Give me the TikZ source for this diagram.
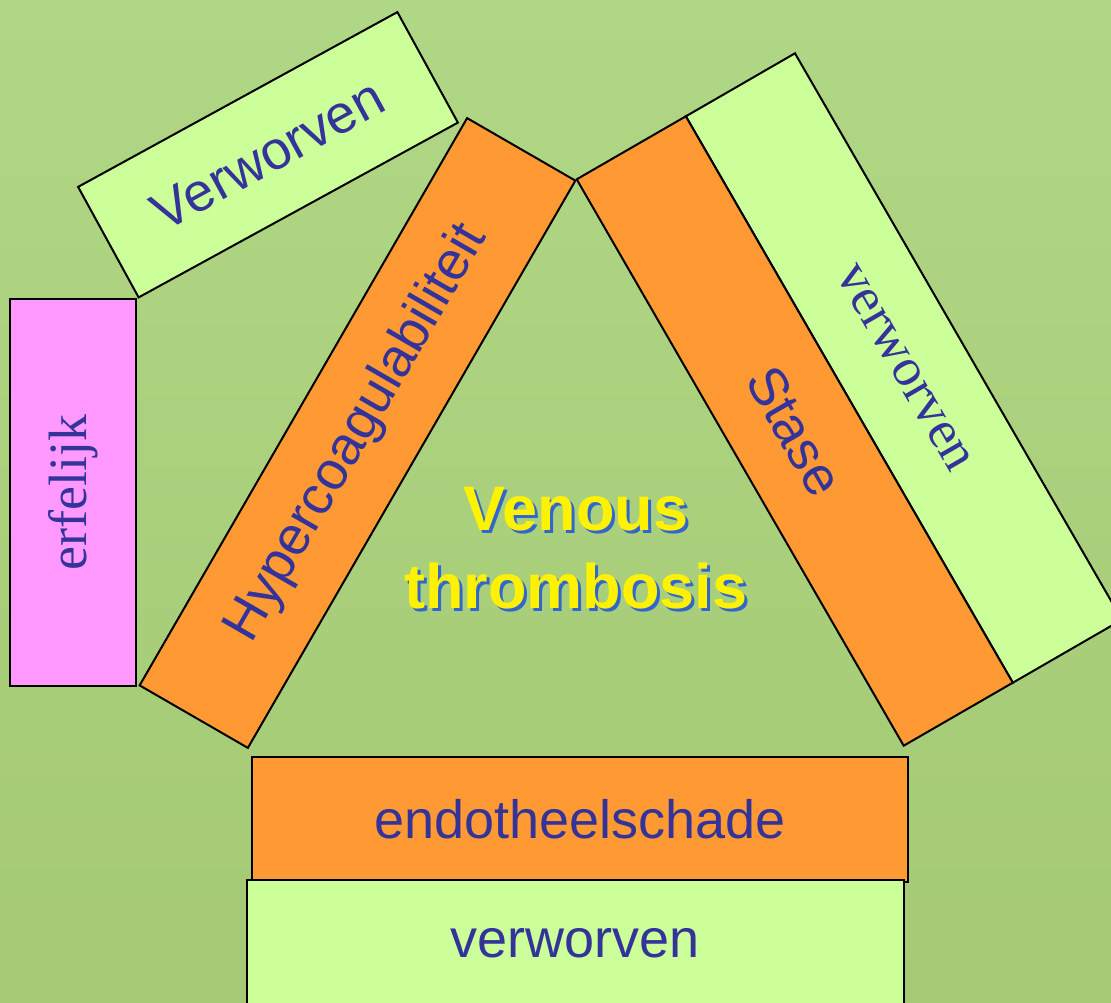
\documentclass[tikz,border=0pt]{standalone}
\usepackage{fontspec}
\setmainfont{Liberation Sans}
\newfontfamily\timesfont{Liberation Serif}
\usepackage{xcolor}
\usepackage{tikz}
\usetikzlibrary{positioning}

\definecolor{bggreen}{HTML}{A5C974}
\definecolor{bglight}{HTML}{B0D785}
\definecolor{boxorange}{HTML}{FF9933}
\definecolor{boxgreen}{HTML}{CCFF99}
\definecolor{boxpink}{HTML}{FF99FF}
\definecolor{txtblue}{HTML}{333399}
\definecolor{shadowblue}{HTML}{3366CC}

\begin{document}
\begin{tikzpicture}[
        x=1pt, y=-1pt,
        box/.style={draw=black, line width=2pt, fill=#1, inner sep=0pt, text=txtblue, font=\fontsize{54}{60}\selectfont},
        box/.default=boxgreen,
        serifbox/.style={box=#1, font=\timesfont\fontsize{54}{60}\selectfont},
        title/.style={align=center, font=\bfseries\fontsize{63}{78}\selectfont},
    ]
    % Background
    \useasboundingbox (0,0) rectangle (1111,1002);
    \clip (0,0) rectangle (1111,1002);
    \shade[top color=bglight, bottom color=bggreen] (0,0) rectangle (1111,1002);

    % Hypercoagulability side
    \node[box, rotate=28.7, minimum width=364pt, minimum height=126pt] (acqtop) at (268,154.75) {Verworven};
    \node[serifbox=boxpink, rotate=90, minimum width=387pt, minimum height=126pt] (hered) at (73,492.5) {erfelijk};
    \node[box=boxorange, rotate=60, minimum width=655pt, minimum height=125pt] (hyper) at (357.5,433) {Hypercoagulabiliteit};

    % Stasis side
    \node[serifbox=boxgreen, rotate=-60, minimum width=654pt, minimum height=126pt] (acqright) at (903.9,368) {verworven};
    \node[box=boxorange, rotate=-60, minimum width=654pt, minimum height=126pt] (stase) at (794.75,431) {Stase};

    % Endothelial side
    \node[box=boxorange, minimum width=656pt, minimum height=125pt] (endo) at (580,819.5) {endotheelschade};
    \node[box, minimum width=657pt, minimum height=126pt] (acqbottom) at (575.5,943) {verworven};

    % Title
    \node[title, text=shadowblue] (titleshadow) at (579,551) {Venous\\thrombosis};
    \node[title, text=yellow] (title) at (576,548) {Venous\\thrombosis};
\end{tikzpicture}
\end{document}
